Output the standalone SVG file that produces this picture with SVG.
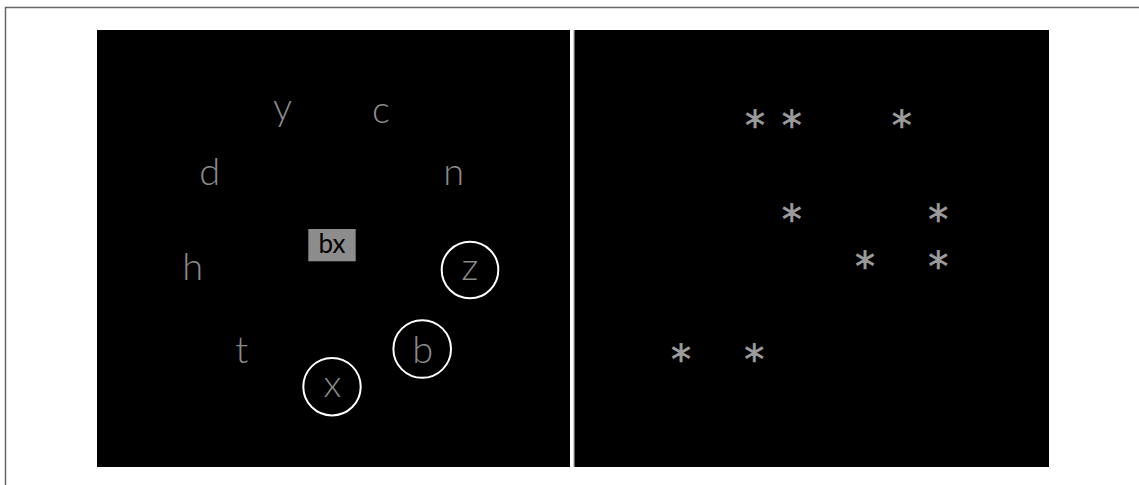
<svg xmlns="http://www.w3.org/2000/svg" width="1139" height="485" viewBox="0 0 1139 485">
<style>
.panel{fill:#000}
.lbl{font-family:Lato,"Open Sans","Liberation Sans",sans-serif;font-weight:300;font-size:38px;fill:#8a8a8a;text-anchor:middle}
.ring{fill:none;stroke:#fff;stroke-width:2}
.star{font-family:"DejaVu Sans",sans-serif;font-size:40px;fill:#9c9c9c;stroke:#9c9c9c;stroke-width:0.6;text-anchor:middle}
</style>
<rect x="0" y="0" width="1139" height="485" fill="#fff"/>
<path d="M5.5 485V7.5H1139" fill="none" stroke="#666" stroke-width="1.5"/>
<g id="left-panel">
<rect class="panel" x="97" y="30" width="473" height="437"/>
<g id="node-y"><text class="lbl" x="282.5" y="120">y</text></g>
<g id="node-c"><text class="lbl" x="381" y="123">c</text></g>
<g id="node-d"><text class="lbl" x="209.7" y="185">d</text></g>
<g id="node-n"><text class="lbl" x="453.8" y="185">n</text></g>
<g id="node-h"><text class="lbl" x="192.8" y="280">h</text></g>
<g id="node-t"><text class="lbl" x="241.7" y="363.3">t</text></g>
<g id="node-bx">
<rect x="308.3" y="229" width="47.4" height="32.3" fill="#8d8d8d"/>
<text x="332" y="252.5" font-family="Lato,'Open Sans','Liberation Sans',sans-serif" font-size="26" fill="#000" text-anchor="middle">bx</text>
</g>
<g id="node-z"><circle class="ring" cx="470" cy="270" r="28.3"/><text class="lbl" x="470" y="280">z</text></g>
<g id="node-b"><circle class="ring" cx="422.2" cy="349" r="28.8"/><text class="lbl" x="422.8" y="363.3">b</text></g>
<g id="node-x"><circle class="ring" cx="332" cy="386.7" r="28.7"/><text class="lbl" x="332.3" y="396.7">x</text></g>
</g>
<line x1="574.3" y1="30" x2="574.3" y2="467" stroke="#555" stroke-width="1.2"/>
<g id="right-panel">
<rect class="panel" x="575" y="30" width="474" height="437"/>
<g id="stars">
<text class="star" x="755" y="139.6">*</text>
<text class="star" x="791.7" y="139.6">*</text>
<text class="star" x="901.7" y="139.6">*</text>
<text class="star" x="791.7" y="233.6">*</text>
<text class="star" x="938.3" y="233.6">*</text>
<text class="star" x="865" y="281.3">*</text>
<text class="star" x="938.3" y="281.3">*</text>
<text class="star" x="681" y="373.9">*</text>
<text class="star" x="754.3" y="373.9">*</text>
</g>
</g>
</svg>
